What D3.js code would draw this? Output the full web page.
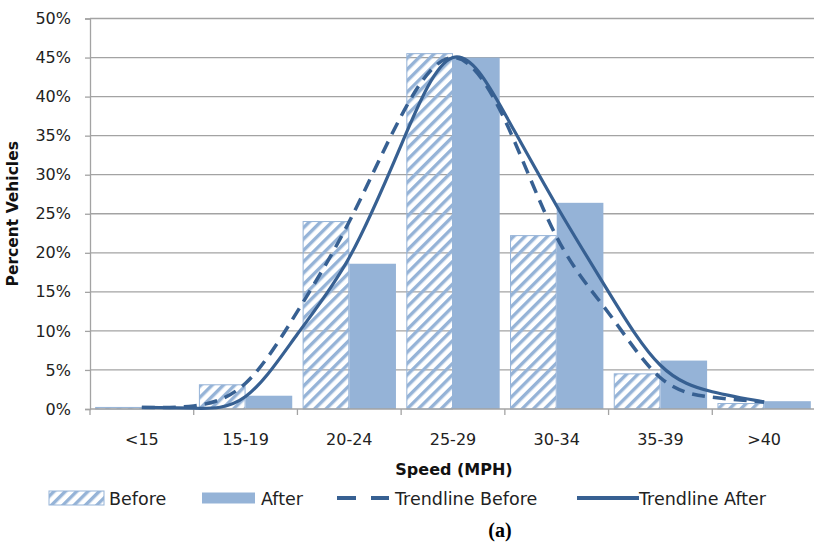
<!DOCTYPE html>
<html>
<head>
<meta charset="utf-8">
<script src="https://cdn.jsdelivr.net/npm/d3@7"></script>
<style>
  body { margin: 0; background: #fff; }
  svg { display: block; }
</style>
</head>
<body>
<div id="chart"></div>
<script>
// speed bins and the share of vehicles in each (percent)
const categories = ["<15", "15-19", "20-24", "25-29", "30-34", "35-39", ">40"];
const beforeValues = [0.2, 3.1, 24.0, 45.5, 22.2, 4.5, 0.7];
const afterValues = [0.2, 1.7, 18.6, 45.0, 26.4, 6.2, 1.0];
// trendlines, read at every half bin (position in bin units, 0.5 = centre of "<15")
const trendPos = [0.5, 1, 1.5, 2, 2.5, 3, 3.5, 4, 4.5, 5, 5.5, 6, 6.5];
const trendBefore = [0.2, 0.4, 3.3, 12.5, 24.0, 37.5, 45.0, 37.0, 22.0, 12.3, 4.0, 1.5, 0.9];
const trendAfter = [0.2, 0.1, 1.6, 9.6, 19.4, 33.8, 45.0, 37.8, 26.0, 15.0, 5.6, 2.2, 0.9];
const yTicks = [0, 5, 10, 15, 20, 25, 30, 35, 40, 45, 50];

const width = 814, height = 544;
const margin = { top: 18.5, right: -2, bottom: 135, left: 90 };
const barColor = "#95B3D7";
const lineColor = "#376092";
const gridColor = "#a3a3a3";
const font = "'DejaVu Sans', Verdana, sans-serif";

const svg = d3.select("#chart").append("svg")
    .attr("width", width)
    .attr("height", height);

// hatch for the "Before" bars
const defs = svg.append("defs");
defs.append("pattern")
    .attr("id", "hatch")
    .attr("patternUnits", "userSpaceOnUse")
    .attr("width", 8)
    .attr("height", 8)
    .attr("patternTransform", "rotate(45)")
  .append("rect")
    .attr("width", 3.4)
    .attr("height", 8)
    .attr("fill", barColor);

const x = d3.scaleBand()
    .domain(categories)
    .range([margin.left, width - margin.right])
    .paddingInner(0.1)
    .paddingOuter(0.05);

// band without padding for ticks and centres
const xCat = d3.scaleBand()
    .domain(categories)
    .range([margin.left, width - margin.right]);

// same axis in bin units, for the trendlines
const xPos = d3.scaleLinear()
    .domain([0, categories.length])
    .range([margin.left, width - margin.right]);

const xSub = d3.scaleBand()
    .domain(["before", "after"])
    .range([0, x.bandwidth()]);

const y = d3.scaleLinear()
    .domain([0, 50])
    .range([height - margin.bottom, margin.top]);

// gridlines
svg.append("g")
    .selectAll("line")
    .data(yTicks.filter(d => d > 0))
    .enter().append("line")
    .attr("x1", margin.left)
    .attr("x2", width)
    .attr("y1", d => y(d))
    .attr("y2", d => y(d))
    .attr("stroke", gridColor)
    .attr("stroke-width", 1.3);

// bars
const groups = svg.append("g")
    .selectAll("g")
    .data(categories)
    .enter().append("g")
    .attr("transform", d => "translate(" + (xCat(d) + (xCat.bandwidth() - x.bandwidth()) / 2) + ",0)");

groups.append("rect")
    .attr("x", xSub("before") + 0.5)
    .attr("width", xSub.bandwidth() - 1)
    .attr("y", (d, i) => y(beforeValues[i]))
    .attr("height", (d, i) => y(0) - y(beforeValues[i]))
    .attr("fill", "url(#hatch)")
    .attr("stroke", barColor)
    .attr("stroke-width", 1);

groups.append("rect")
    .attr("x", xSub("after"))
    .attr("width", xSub.bandwidth())
    .attr("y", (d, i) => y(afterValues[i]))
    .attr("height", (d, i) => y(0) - y(afterValues[i]))
    .attr("fill", barColor);

// axes
const yAxis = svg.append("g")
    .attr("transform", "translate(" + margin.left + ",0)")
    .call(d3.axisLeft(y).tickValues(yTicks).tickFormat(d => d + "%").tickSize(5).tickPadding(14));
yAxis.select(".domain").attr("stroke", gridColor).attr("stroke-width", 1.3);
yAxis.selectAll(".tick line").attr("stroke", gridColor).attr("stroke-width", 1.3);
yAxis.selectAll("text")
    .attr("font-family", font)
    .attr("font-size", 16)
    .attr("fill", "#222");

const xAxis = svg.append("g")
    .attr("transform", "translate(0," + y(0) + ")");
xAxis.append("line")
    .attr("x1", margin.left)
    .attr("x2", width)
    .attr("stroke", gridColor)
    .attr("stroke-width", 1.3);
xAxis.selectAll(".tick")
    .data(categories)
    .enter().append("line")
    .attr("class", "tick")
    .attr("x1", d => xCat(d))
    .attr("x2", d => xCat(d))
    .attr("y2", 6)
    .attr("stroke", gridColor)
    .attr("stroke-width", 1.3);
xAxis.selectAll(".label")
    .data(categories)
    .enter().append("text")
    .attr("class", "label")
    .attr("x", d => xCat(d) + xCat.bandwidth() / 2)
    .attr("y", 36)
    .attr("text-anchor", "middle")
    .attr("font-family", font)
    .attr("font-size", 16)
    .attr("fill", "#222")
    .text(d => d);

// trendlines
const line = d3.line()
    .x((d, i) => xPos(trendPos[i]))
    .y(d => y(Math.max(0, d)))
    .curve(d3.curveNatural);

svg.append("path")
    .attr("d", line(trendBefore))
    .attr("fill", "none")
    .attr("stroke", lineColor)
    .attr("stroke-width", 3.5)
    .attr("stroke-dasharray", "13,8");

svg.append("path")
    .attr("d", line(trendAfter))
    .attr("fill", "none")
    .attr("stroke", lineColor)
    .attr("stroke-width", 3.2);

// axis titles
svg.append("text")
    .attr("transform", "translate(18," + (margin.top + y(0)) / 2 + ") rotate(-90)")
    .attr("text-anchor", "middle")
    .attr("font-family", font)
    .attr("font-weight", "bold")
    .attr("font-size", 15.5)
    .attr("fill", "#111")
    .text("Percent Vehicles");

svg.append("text")
    .attr("x", 454)
    .attr("y", 475)
    .attr("text-anchor", "middle")
    .attr("font-family", font)
    .attr("font-weight", "bold")
    .attr("font-size", 16)
    .attr("fill", "#111")
    .text("Speed (MPH)");

// legend
const legend = svg.append("g").attr("font-family", font).attr("font-size", 17.5).attr("fill", "#222");
const ly = 498;
legend.append("rect").attr("x", 49).attr("y", ly - 7).attr("width", 55).attr("height", 14)
    .attr("fill", "url(#hatch)").attr("stroke", barColor);
legend.append("text").attr("x", 109).attr("y", ly + 6.5).text("Before");
legend.append("rect").attr("x", 202).attr("y", ly - 5.5).attr("width", 53).attr("height", 11)
    .attr("fill", barColor);
legend.append("text").attr("x", 261).attr("y", ly + 6.5).text("After");
legend.append("line").attr("x1", 337).attr("x2", 389).attr("y1", ly).attr("y2", ly)
    .attr("stroke", lineColor).attr("stroke-width", 4).attr("stroke-dasharray", "19,15");
legend.append("text").attr("x", 395).attr("y", ly + 6.5).text("Trendline Before");
legend.append("line").attr("x1", 577).attr("x2", 639).attr("y1", ly).attr("y2", ly)
    .attr("stroke", lineColor).attr("stroke-width", 4);
legend.append("text").attr("x", 639).attr("y", ly + 6.5).text("Trendline After");

svg.append("text")
    .attr("x", 500)
    .attr("y", 537)
    .attr("text-anchor", "middle")
    .attr("font-family", "'Liberation Serif', 'Times New Roman', serif")
    .attr("font-weight", "bold")
    .attr("font-size", 20)
    .attr("fill", "#000")
    .text("(a)");
</script>
</body>
</html>
